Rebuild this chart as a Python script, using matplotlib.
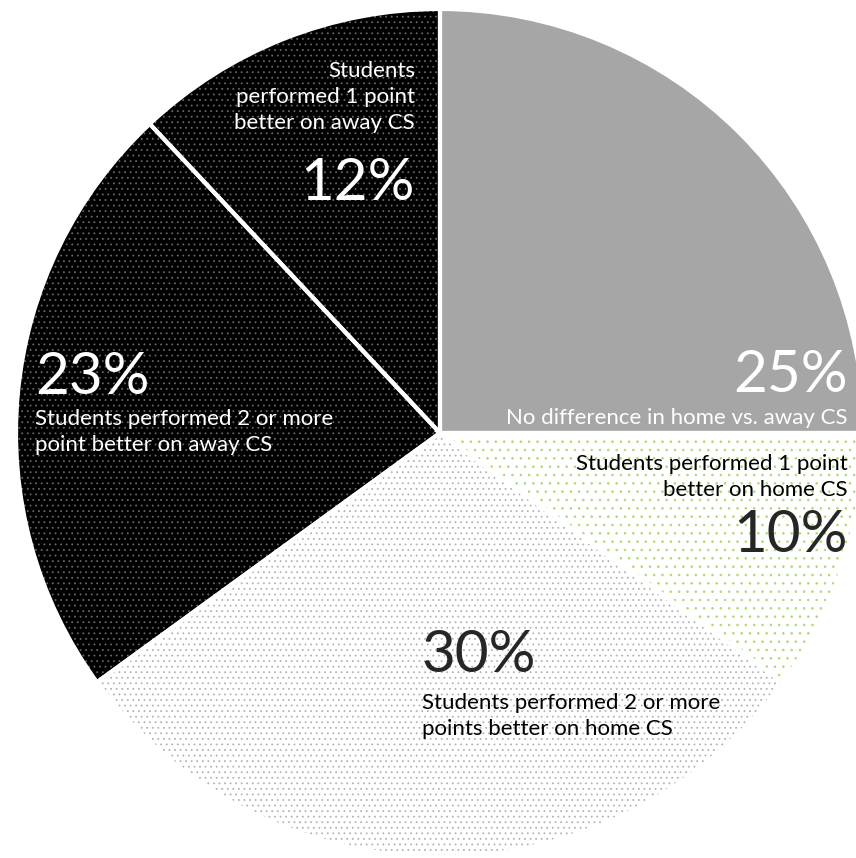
import matplotlib.pyplot as plt

plt.rcParams['font.family'] = ['Lato', 'DejaVu Sans']
plt.rcParams['hatch.linewidth'] = 0.6

# slices, clockwise from 12 o'clock
labels = ['No difference in home vs. away CS',
          'Students performed 1 point\nbetter on home CS',
          'Students performed 2 or more\npoints better on home CS',
          'Students performed 2 or more\npoint better on away CS',
          'Students\nperformed 1 point\nbetter on away CS']
pct = [25, 10, 30, 23, 12]
face = ['#a6a6a6', 'white', 'white', 'black', 'black']
dots = ['#a6a6a6', '#a8dc70', '#b4b4b4', '#666666', '#666666']
hatches = [None, '..', '...', '...', '...']

fig = plt.figure(figsize=(8.56, 8.58), dpi=100)
ax = fig.add_axes([0, 0, 1, 1])

cx, cy, r = 440, 433, 424

# y axis is flipped below, so counterclock in data = clockwise on screen
wedges, _ = ax.pie(pct, startangle=-90, counterclock=True,
                   center=(cx, cy), radius=r, frame=True,
                   wedgeprops={'linewidth': 0})
for w, fc, ec, h in zip(wedges, face, dots, hatches):
    w.set_facecolor(fc)
    w.set_edgecolor(ec)
    if h:
        w.set_hatch(h)
# white separators
ax.pie(pct, startangle=-90, counterclock=True, center=(cx, cy),
       radius=r, frame=True,
       wedgeprops={'fill': False, 'edgecolor': 'white', 'linewidth': 3})
ax.set_xlim(0, 856)
ax.set_ylim(858, 0)
ax.set_aspect('equal')
ax.axis('off')

big = 42
small = 16
ls = 1.35

# 12%
ax.text(415, 97, labels[4], ha='right', va='center', fontsize=small,
        color='white', linespacing=ls)
ax.text(415, 183, f'{pct[4]}%', ha='right', va='center', fontsize=big, color='white')
# 25%
ax.text(848, 375, f'{pct[0]}%', ha='right', va='center', fontsize=big, color='white')
ax.text(848, 418, labels[0], ha='right', va='center', fontsize=small, color='white')
# 10%
ax.text(848, 477, labels[1], ha='right', va='center', fontsize=small,
        color='black', linespacing=ls)
ax.text(848, 535, f'{pct[1]}%', ha='right', va='center', fontsize=big, color='#262626')
# 30%
ax.text(422, 655, f'{pct[2]}%', ha='left', va='center', fontsize=big, color='#262626')
ax.text(422, 716, labels[2], ha='left', va='center', fontsize=small,
        color='black', linespacing=ls)
# 23%
ax.text(35, 378, f'{pct[3]}%', ha='left', va='center', fontsize=big, color='white')
ax.text(35, 432, labels[3], ha='left', va='center', fontsize=small,
        color='white', linespacing=ls)

fig.savefig('out.png', dpi=100)
